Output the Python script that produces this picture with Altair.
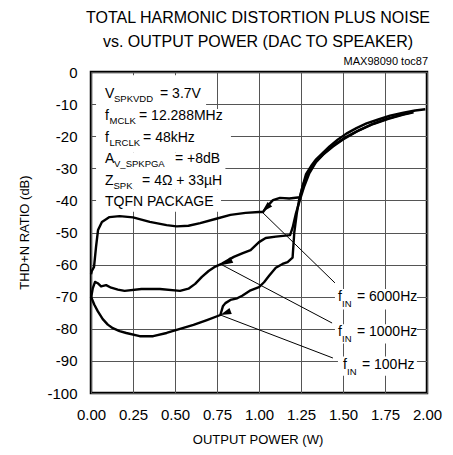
import math
import altair as alt
import pandas as pd

# ---------------- data ----------------
power_6000 = [0.0, 0.005, 0.018, 0.03, 0.042, 0.065, 0.11, 0.17, 0.25, 0.35, 0.45, 0.51,
              0.58, 0.65, 0.74, 0.83, 0.92, 1.0, 1.024, 1.05, 1.083, 1.125, 1.18, 1.244,
              1.26, 1.28, 1.31, 1.34, 1.38, 1.42, 1.47, 1.52, 1.58, 1.64, 1.71, 1.78, 1.86, 1.93, 1.99]
thd_6000 = [-63.0, -62.0, -60.7, -54.5, -49.2, -46.7, -45.2, -44.9, -45.3, -46.7, -47.7, -48.1,
            -47.9, -47.1, -45.8, -44.5, -43.9, -43.6, -43.6, -41.8, -39.9, -39.2, -39.4, -39.0,
            -35.5, -31.8, -29.3, -27.2, -25.2, -23.2, -21.0, -19.2, -17.5, -16.0, -14.8, -13.6, -12.7, -12.0, -11.6]

power_1000 = [0.0, 0.01, 0.024, 0.04, 0.06, 0.09, 0.12, 0.16, 0.2, 0.3, 0.41, 0.53,
              0.58, 0.62, 0.66, 0.7, 0.74, 0.78, 0.85, 0.9, 0.95, 1.0, 1.04, 1.1,
              1.185, 1.2, 1.22, 1.245, 1.27, 1.3, 1.34, 1.39, 1.45, 1.52, 1.6, 1.68, 1.77, 1.86, 1.92]
thd_1000 = [-70.5, -67.5, -65.4, -65.8, -66.8, -66.4, -67.2, -67.8, -68.2, -67.6, -67.6, -68.2,
            -67.5, -66.0, -63.8, -62.0, -60.6, -59.7, -57.6, -56.5, -55.5, -53.0, -51.7, -51.3,
            -50.8, -48.5, -44.0, -39.6, -35.5, -31.5, -28.0, -25.2, -22.6, -20.2, -18.0, -16.2, -14.6, -13.3, -12.6]

power_100 = [0.0, 0.02, 0.04, 0.07, 0.1, 0.13, 0.17, 0.21, 0.29, 0.37, 0.45, 0.53,
             0.61, 0.69, 0.77, 0.785, 0.8, 0.83, 0.87, 0.9, 0.95, 1.0, 1.03, 1.06,
             1.1, 1.14, 1.17, 1.2, 1.21, 1.225, 1.24, 1.26, 1.29, 1.33, 1.38, 1.44, 1.5, 1.58, 1.67, 1.76, 1.85, 1.91]
thd_100 = [-70.0, -72.5, -74.5, -77.0, -78.7, -79.8, -80.7, -81.3, -82.3, -82.3, -81.3, -80.0,
           -78.8, -77.3, -75.7, -73.0, -72.0, -71.0, -70.5, -69.7, -68.0, -67.0, -65.5, -63.5,
           -61.0, -59.8, -59.2, -57.8, -50.0, -44.0, -39.5, -35.5, -31.5, -28.5, -25.8, -23.2, -21.0, -18.6, -16.3, -14.6, -13.3, -12.6]

series_names = ["6000Hz", "1000Hz", "100Hz"]

# annotation arrows (data units): label end -> curve
arrow_from_x = [1.452, 1.435, 1.44]
arrow_from_y = [-65.7, -78.2, -89.1]
arrow_to_x = [1.018, 0.78, 0.77]
arrow_to_y = [-43.6, -60.1, -75.7]

x_ticks = [0.0, 0.25, 0.5, 0.75, 1.0, 1.25, 1.5, 1.75, 2.0]
y_ticks = [0, -10, -20, -30, -40, -50, -60, -70, -80, -90, -100]

# ---------------- layout constants ----------------
W, H = 336, 321
X_DOM, Y_DOM = [0, 2], [-100, 0]
PX_PER_X = W / (X_DOM[1] - X_DOM[0])
PX_PER_Y = H / (Y_DOM[1] - Y_DOM[0])
FONT = "Liberation Sans, Arial, sans-serif"

rows = []
for name, xs_, ys_ in zip(series_names, [power_6000, power_1000, power_100], [thd_6000, thd_1000, thd_100]):
    for a, b in zip(xs_, ys_):
        rows.append({"series": name, "x": a, "y": b})
curves = pd.DataFrame(rows)

arrows = pd.DataFrame({"x": arrow_from_x, "y": arrow_from_y, "x2": arrow_to_x, "y2": arrow_to_y})
heads = pd.DataFrame({
    "x": arrow_to_x, "y": arrow_to_y,
    "angle": [math.degrees(math.atan2(-(fx - tx) * PX_PER_X, (fy - ty) * PX_PER_Y)) % 360
              for fx, fy, tx, ty in zip(arrow_from_x, arrow_from_y, arrow_to_x, arrow_to_y)],
})

# white backgrounds behind text blocks
boxes = pd.DataFrame({
    "x": [0.03, 0.03, 0.03, 0.03, 1.452, 1.452, 1.47],
    "x2": [0.685, 0.833, 0.80, 0.774, 1.94, 1.94, 1.94],
    "y": [-1.0, -11.5, -25.0, -36.5, -67.6, -78.6, -88.6],
    "y2": [-11.5, -25.0, -36.5, -43.5, -74.0, -84.6, -94.6],
})

main_text = pd.DataFrame({
    "t": ["V", "= 3.7V", "f", "= 12.288MHz", "f", "= 48kHz", "A", "= +8dB", "Z", "= 4\u03a9 + 33\u00b5H",
          "TQFN PACKAGE", "f", "= 6000Hz", "f", "= 1000Hz", "f", "= 100Hz"],
    "x": [0.083, 0.411, 0.083, 0.286, 0.083, 0.31, 0.083, 0.50, 0.083, 0.304,
          0.083, 1.47, 1.583, 1.47, 1.583, 1.50, 1.613],
    "y": [-8.1, -8.1, -14.95, -14.95, -21.7, -21.7, -28.4, -28.4, -35.2, -35.2,
          -41.9, -71.3, -71.3, -82.2, -82.2, -92.5, -92.5],
})
sub_text = pd.DataFrame({
    "t": ["SPKVDD", "MCLK", "LRCLK", "V_SPKPGA", "SPK", "IN", "IN", "IN"],
    "x": [0.137, 0.11, 0.11, 0.137, 0.134, 1.494, 1.494, 1.524],
    "y": [-9.4, -16.2, -23.0, -29.7, -36.5, -73.3, -84.2, -94.5],
})

xs = alt.Scale(domain=X_DOM, nice=False, zero=False)
ys = alt.Scale(domain=Y_DOM, nice=False, zero=False)
x_axis = alt.Axis(values=x_ticks, format=".2f", title=None, grid=True, ticks=False, domain=False,
                  labelFont=FONT, labelFontSize=15, labelColor="black", labelPadding=14,
                  labelFlush=False, labelOverlap=False, gridColor="#555", gridWidth=1, gridOpacity=1)
y_axis = alt.Axis(values=y_ticks, title=None, grid=True, ticks=False, domain=False,
                  labelExpr="datum.value == 0 ? '0' : '-' + abs(datum.value)",
                  labelFont=FONT, labelFontSize=15, labelColor="black", labelPadding=14,
                  labelOverlap=False, gridColor="#555", gridWidth=1, gridOpacity=1)
X = alt.X("x:Q", scale=xs, axis=x_axis)
Y = alt.Y("y:Q", scale=ys, axis=y_axis)

bg = alt.Chart(boxes).mark_rect(color="white").encode(x=X, x2="x2:Q", y=Y, y2="y2:Q")

lines = alt.Chart(curves).mark_line(color="black", strokeWidth=2.4, strokeJoin="round").encode(
    x=X, y=Y, detail="series:N", order="x:Q")

rules = alt.Chart(arrows).mark_rule(color="black", strokeWidth=1).encode(x=X, y=Y, x2="x2:Q", y2="y2:Q")

arrowheads = alt.Chart(heads).mark_point(
    shape="M0,0L-0.65,2.2L0.65,2.2Z", filled=True, color="black", opacity=1, size=100, strokeWidth=0
).encode(x=X, y=Y, angle=alt.Angle("angle:Q", scale=None))

t_main = alt.Chart(main_text).mark_text(
    align="left", baseline="alphabetic", font=FONT, fontSize=14, color="black"
).encode(x=X, y=Y, text="t:N")
t_sub = alt.Chart(sub_text).mark_text(
    align="left", baseline="alphabetic", font=FONT, fontSize=9.5, color="black"
).encode(x=X, y=Y, text="t:N")

title1 = alt.Chart(pd.DataFrame({"t": ["TOTAL HARMONIC DISTORTION PLUS NOISE"]})).mark_text(
    align="center", baseline="middle", font=FONT, fontSize=16, color="black"
).encode(x=alt.value(W / 2 - 1), y=alt.value(-54), text="t:N")
title2 = alt.Chart(pd.DataFrame({"t": ["vs. OUTPUT POWER (DAC TO SPEAKER)"]})).mark_text(
    align="center", baseline="middle", font=FONT, fontSize=16, color="black"
).encode(x=alt.value(W / 2 - 1), y=alt.value(-30), text="t:N")

toc = alt.Chart(pd.DataFrame({"t": ["MAX98090 toc87"]})).mark_text(
    align="right", baseline="middle", font=FONT, fontSize=11, color="black"
).encode(x=alt.value(W + 1), y=alt.value(-10), text="t:N")

xtitle = alt.Chart(pd.DataFrame({"t": ["OUTPUT POWER (W)"]})).mark_text(
    align="center", baseline="alphabetic", font=FONT, fontSize=13, color="black"
).encode(x=alt.value(W / 2 - 1), y=alt.value(372), text="t:N")

ytitle = alt.Chart(pd.DataFrame({"t": ["THD+N RATIO (dB)"]})).mark_text(
    align="center", baseline="middle", font=FONT, fontSize=13, color="black", angle=270
).encode(x=alt.value(-66), y=alt.value(H / 2), text="t:N")

chart = alt.layer(bg, lines, rules, arrowheads, t_main, t_sub, title1, title2, toc, xtitle, ytitle).properties(
    width=W, height=H,
    background="white",
    autosize=alt.AutoSizeParams(type="none"),
    padding={"left": 83, "top": 64, "right": 18, "bottom": 54},
).configure_view(stroke="black", strokeWidth=2.5)

chart.save("out.html", embed_options={"renderer": "svg", "actions": False})
